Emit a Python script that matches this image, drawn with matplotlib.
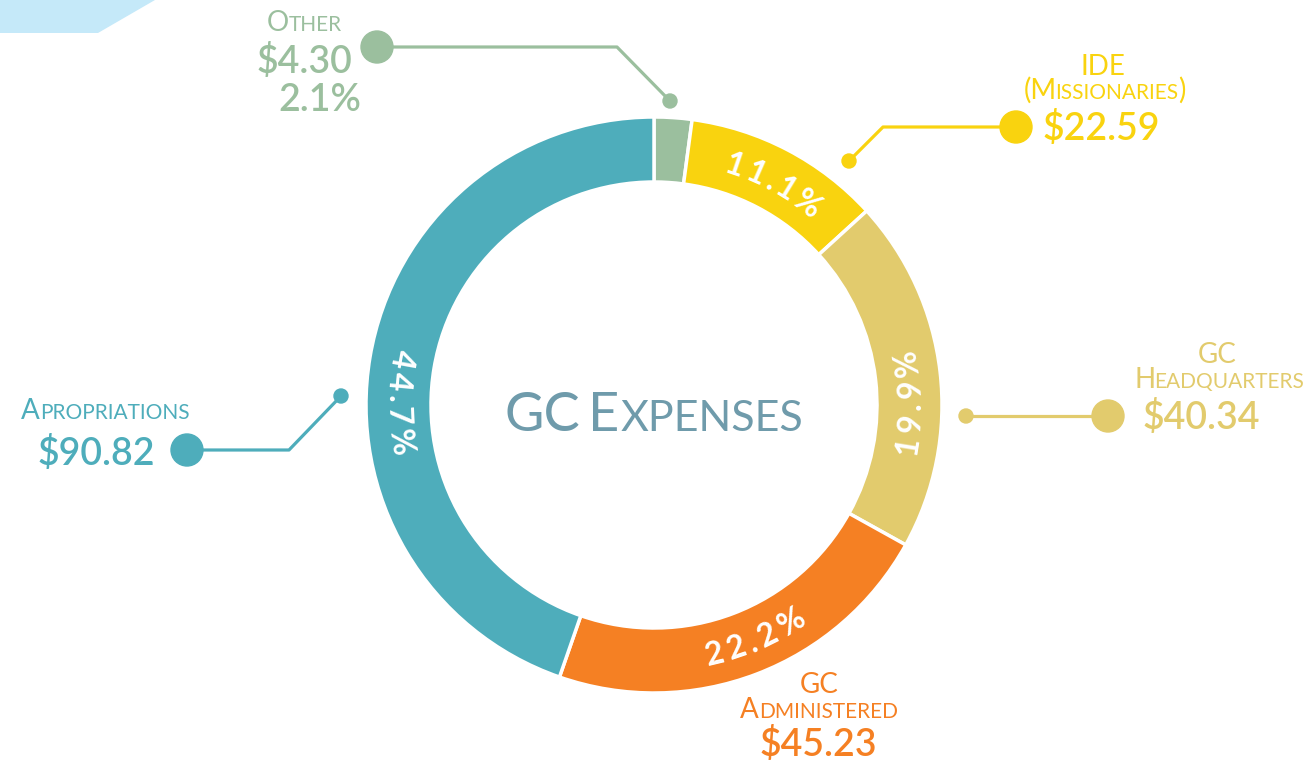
import numpy as np
import matplotlib
matplotlib.use('Agg')
import matplotlib.pyplot as plt
from matplotlib.patches import Circle, Polygon
from matplotlib.textpath import TextPath
from matplotlib.font_manager import FontProperties

plt.rcParams['font.family'] = ['Lato', 'DejaVu Sans']

# ДАННЫЕ
categories = ['Other', 'IDE (Missionaries)', 'GC Headquarters', 'GC Administered', 'Apropriations']
amounts = [4.30, 22.59, 40.34, 45.23, 90.82]
shares = [2.1, 11.1, 19.9, 22.2, 44.7]
amount_labels = ['$4.30', '$22.59', '$40.34', '$45.23', '$90.82']
colors = ['#9bbf9e', '#f9d30f', '#e2cb6d', '#f58023', '#4eadbb']
title = 'GC Expenses'

# РАЗМЕТКА
W, H = 1311, 763
label_nudge = [0, 1, 6, -2.5, -9]  # сдвиг подписей процентов по кольцу, градусы
VAL_SIZE = 27
PCT_SIZE = 23

fig = plt.figure(figsize=(W / 100, H / 100), dpi=100)
ax = fig.add_axes([0, 0, 1, 1])


def Y(py):
    # пиксели сверху -> координаты снизу
    return H - py


cx, cy = 654, Y(405)
R, ring = 288, 65

ax.pie(amounts, colors=colors, startangle=90, counterclock=False,
       radius=R, center=(cx, cy),
       wedgeprops=dict(width=ring, edgecolor='white', linewidth=2.5))
ax.set_xlim(0, W)
ax.set_ylim(0, H)
ax.set_aspect('equal')
ax.axis('off')

# декоративная плашка слева сверху
ax.add_patch(Polygon([(0, Y(0)), (155, Y(0)), (98, Y(33)), (0, Y(33))],
                     closed=True, color='#c5e9f9', lw=0))

renderer = fig.canvas.get_renderer()


def ink(s, pt, weight='normal'):
    fp = FontProperties(family='Lato', weight=weight)
    ext = TextPath((0, 0), s, size=pt * 100 / 72, prop=fp).get_extents()
    return ext.x0, ext.width


def caps(x, py, label, big, small, color, ha='center', weight='normal', gap=2.2):
    # псевдо-капитель: строчные буквы -> маленькие прописные
    items = []
    words = label.split(' ')
    for wi, word in enumerate(words):
        runs = []
        for ch in word:
            sm = ch.islower()
            if runs and runs[-1][0] == sm:
                runs[-1][1] += ch.upper()
            else:
                runs.append([sm, ch.upper()])
        for k, (sm, s) in enumerate(runs):
            size = small if sm else big
            lsb, w = ink(s, size, weight)
            items.append((s, size, lsb, w))
            if k < len(runs) - 1:
                items.append((None, 0, 0, gap))
        if wi < len(words) - 1:
            items.append((None, 0, 0, big * 100 / 72 * 0.27))
    total = sum(it[3] for it in items)
    pen = {'center': x - total / 2, 'right': x - total, 'left': x}[ha]
    for s, size, lsb, w in items:
        if s is not None:
            ax.text(pen - lsb, Y(py), s, fontsize=size, color=color,
                    ha='left', va='baseline', fontweight=weight)
        pen += w


def arc_text(s, theta_c, r, size, track, clockwise):
    # текст по дуге кольца
    adv = []
    for ch in s:
        t = ax.text(0, 0, ch, fontsize=size, fontweight='bold')
        adv.append(t.get_window_extent(renderer).width + track)
        t.remove()
    total = sum(adv) - track
    span = np.rad2deg(total / r)
    sign = 1 if clockwise else -1
    pos = 0
    for ch, a in zip(s, adv):
        th = theta_c - sign * span / 2 + sign * np.rad2deg((pos + (a - track) / 2) / r)
        pos += a
        rad = np.deg2rad(90 - th)
        rot = -th if clockwise else 180 - th
        ax.text(cx + r * np.cos(rad), cy + r * np.sin(rad), ch, color='white',
                fontsize=size, fontweight='bold', rotation=rot,
                rotation_mode='anchor', ha='center', va='center_baseline')


# заголовок в центре
caps(654, 431, title, 39, 31, '#6f9bab', gap=3.5)

# проценты на кольце
cum = np.cumsum([0] + shares[:-1])
for i, s in enumerate(shares):
    if i == 0:
        continue
    theta = (cum[i] + s / 2) / 100 * 360 + label_nudge[i]
    arc_text(f'{s}%', theta, R - ring / 2 - 1, PCT_SIZE, 4, clockwise=theta < 60)


def callout(pts, color):
    xs = [p[0] for p in pts]
    ys = [Y(p[1]) for p in pts]
    ax.plot(xs, ys, color=color, lw=2.3, solid_capstyle='round', zorder=3)
    ax.add_patch(Circle((xs[0], ys[0]), 7, color=color, zorder=4))
    ax.add_patch(Circle((xs[-1], ys[-1]), 16, color=color, zorder=4))


def value(x, py, s, color, ha):
    ax.text(x, Y(py), s, fontsize=VAL_SIZE, color=color, ha=ha,
            va='baseline', fontweight='semibold')


# Other
c = colors[0]
callout([(670, 101), (617, 47), (377, 47)], c)
caps(305, 31, categories[0], 20, 15, c)
value(304, 73, amount_labels[0], c, 'center')
value(320, 111, f'{shares[0]}%', c, 'center')

# IDE
c = colors[1]
callout([(849, 161), (883, 127), (1016, 127)], c)
caps(1104, 75, 'IDE', 20, 15, c)
caps(1105, 99, '(Missionaries)', 20, 15, c)
value(1043, 140, amount_labels[1], c, 'left')

# GC Headquarters
c = colors[2]
callout([(966, 416), (1108, 416)], c)
caps(1218, 363, 'GC', 20, 15, c)
caps(1220, 388, 'Headquarters', 20, 15, c)
value(1143, 429, amount_labels[2], c, 'left')

# GC Administered
c = colors[3]
caps(820, 693, 'GC', 20, 15, c)
caps(819, 718, 'Administered', 20, 15, c)
value(818, 756, amount_labels[3], c, 'center')

# Apropriations
c = colors[4]
callout([(341, 396), (289, 450), (187, 450)], c)
caps(105, 419, categories[4], 20, 15, c)
value(155, 465, amount_labels[4], c, 'right')

fig.savefig('out.png', dpi=100)
